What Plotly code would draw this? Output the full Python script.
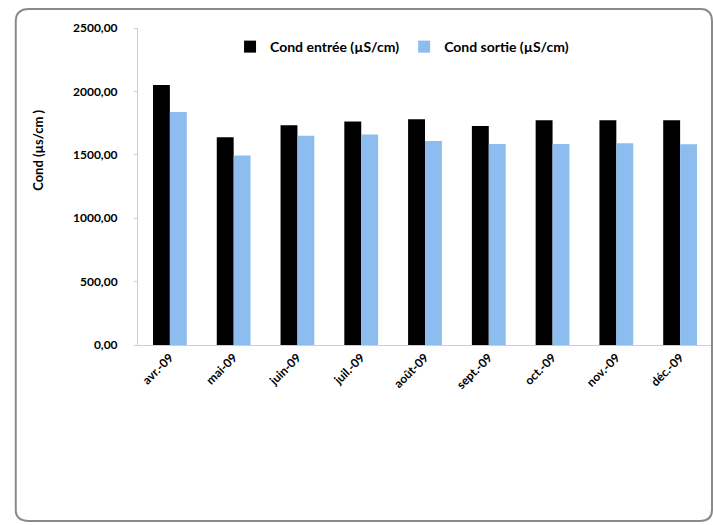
import plotly.graph_objects as go

# Monthly conductivity at plant inlet and outlet (µS/cm), 2009
months = ["avr.-09", "mai-09", "juin-09", "juil.-09", "août-09",
          "sept.-09", "oct.-09", "nov.-09", "déc.-09"]
cond_entree = [2050, 1639, 1734, 1762, 1781, 1728, 1773, 1773, 1773]
cond_sortie = [1837, 1494, 1650, 1660, 1608, 1586, 1586, 1592, 1584]

y_ticks = [0, 500, 1000, 1500, 2000, 2500]
y_tick_labels = ["0,00", "500,00", "1000,00", "1500,00", "2000,00", "2500,00"]

FONT = "Lato"

fig = go.Figure()
fig.add_trace(go.Bar(x=months, y=cond_entree, name="Cond entrée (µS/cm)",
                     marker=dict(color="#000000", line=dict(width=0))))
fig.add_trace(go.Bar(x=months, y=cond_sortie, name="Cond sortie (µS/cm)",
                     marker=dict(color="#8DBDEE", line=dict(width=0))))

fig.update_layout(
    width=713, height=525,
    margin=dict(l=138, r=1, t=28, b=180),
    paper_bgcolor="white", plot_bgcolor="white",
    barmode="group", bargap=0.47, bargroupgap=0,
    font=dict(family=FONT, size=11, color="#000000"),
    showlegend=True,
    legend=dict(orientation="h", x=0.46, xanchor="center", y=0.94, yanchor="middle",
                font=dict(family=FONT, size=14, weight="bold"),
                bgcolor="rgba(0,0,0,0)", itemwidth=30, traceorder="normal"),
    xaxis=dict(showline=True, linecolor="#cfcfcf", linewidth=1,
               ticks="", tickangle=-45,
               tickfont=dict(family=FONT, size=12, weight="bold")),
    yaxis=dict(range=[0, 2500], tickvals=y_ticks, ticktext=y_tick_labels,
               showline=True, linecolor="#cfcfcf", linewidth=1,
               ticks="outside", ticklen=3, tickcolor="#cfcfcf",
               ticklabelstandoff=14, showgrid=False, zeroline=False,
               tickfont=dict(family=FONT, size=12, weight="bold")),
)

# y-axis title
fig.add_annotation(text="Cond (µs/cm )", xref="paper", yref="paper",
                   x=-0.192, y=0.615, textangle=-90, showarrow=False,
                   font=dict(family=FONT, size=13, weight="bold"))

# rounded chart border
fig.add_shape(type="path", xref="paper", yref="paper", layer="above",
              path="M -0.19,1.06 L 0.98,1.06 Q 1.0,1.06 1.0,1.02 "
                   "L 1.0,-0.52 Q 1.0,-0.555 0.98,-0.555 L -0.19,-0.555 "
                   "Q -0.213,-0.555 -0.213,-0.52 L -0.213,1.02 Q -0.213,1.06 -0.19,1.06 Z",
              line=dict(color="#8a8a8a", width=2))

fig.write_html("out.html")
